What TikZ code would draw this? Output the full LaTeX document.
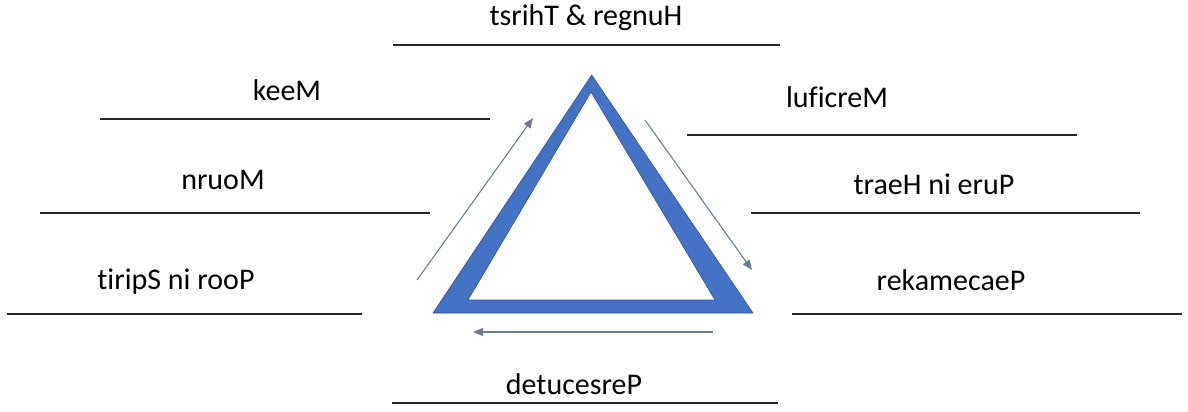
\documentclass[tikz,border=0pt]{standalone}
\usepackage{fontspec}
\setmainfont{Carlito}[Ligatures={NoCommon}]
\usetikzlibrary{arrows.meta}
\definecolor{triblue}{HTML}{4472C4}
\definecolor{triedge}{HTML}{2F528F}
\definecolor{arrowgray}{HTML}{6A7D96}
\tikzset{
  lbl/.style={font=\fontsize{30}{36}\selectfont, inner sep=0pt, anchor=center},
  blank/.style={line width=1.5pt, black!85},
  flow/.style={arrowgray, line width=1.1pt, -{Triangle[length=10pt,width=8pt]}},
}
\begin{document}
\begin{tikzpicture}[x=1pt,y=-1pt]
\useasboundingbox (0,0) rectangle (1188,412);
% triangle
\fill[triblue, even odd rule, draw=triedge, line width=0.6pt]
  (591.7,75) -- (753,313) -- (433,313) -- cycle
  (591,92) -- (715,300) -- (468,300) -- cycle;
% flow arrows
\coordinate (l1) at (417,280); \coordinate (l2) at (533,118);
\coordinate (r1) at (645,120); \coordinate (r2) at (752,270);
\coordinate (b1) at (713,332); \coordinate (b2) at (473,332);
\draw[flow] (l1) -- (l2);
\draw[flow] (r1) -- (r2);
\draw[flow] (b1) -- (b2);
% labels
\node[lbl] (top) at (586,18) {tsrihT \& regnuH};
\node[lbl] (meek) at (287,90) {keeM};
\node[lbl] (mourn) at (223,180) {nruoM};
\node[lbl] (poor) at (176,282) {tiripS ni rooP};
\node[lbl] (merc) at (837,97) {luficreM};
\node[lbl] (pure) at (934,184) {traeH ni eruP};
\node[lbl] (peace) at (951,280) {rekamecaeP};
\node[lbl] (pers) at (574,384) {detucesreP};
% blanks
\draw[blank] (393,45) -- (780,45);
\draw[blank] (100,119) -- (490,119);
\draw[blank] (40,213) -- (430,213);
\draw[blank] (7,314) -- (362,314);
\draw[blank] (687,135) -- (1077,135);
\draw[blank] (751,213) -- (1140,213);
\draw[blank] (792,314) -- (1182,314);
\draw[blank] (392,403) -- (778,403);
\end{tikzpicture}
\end{document}
